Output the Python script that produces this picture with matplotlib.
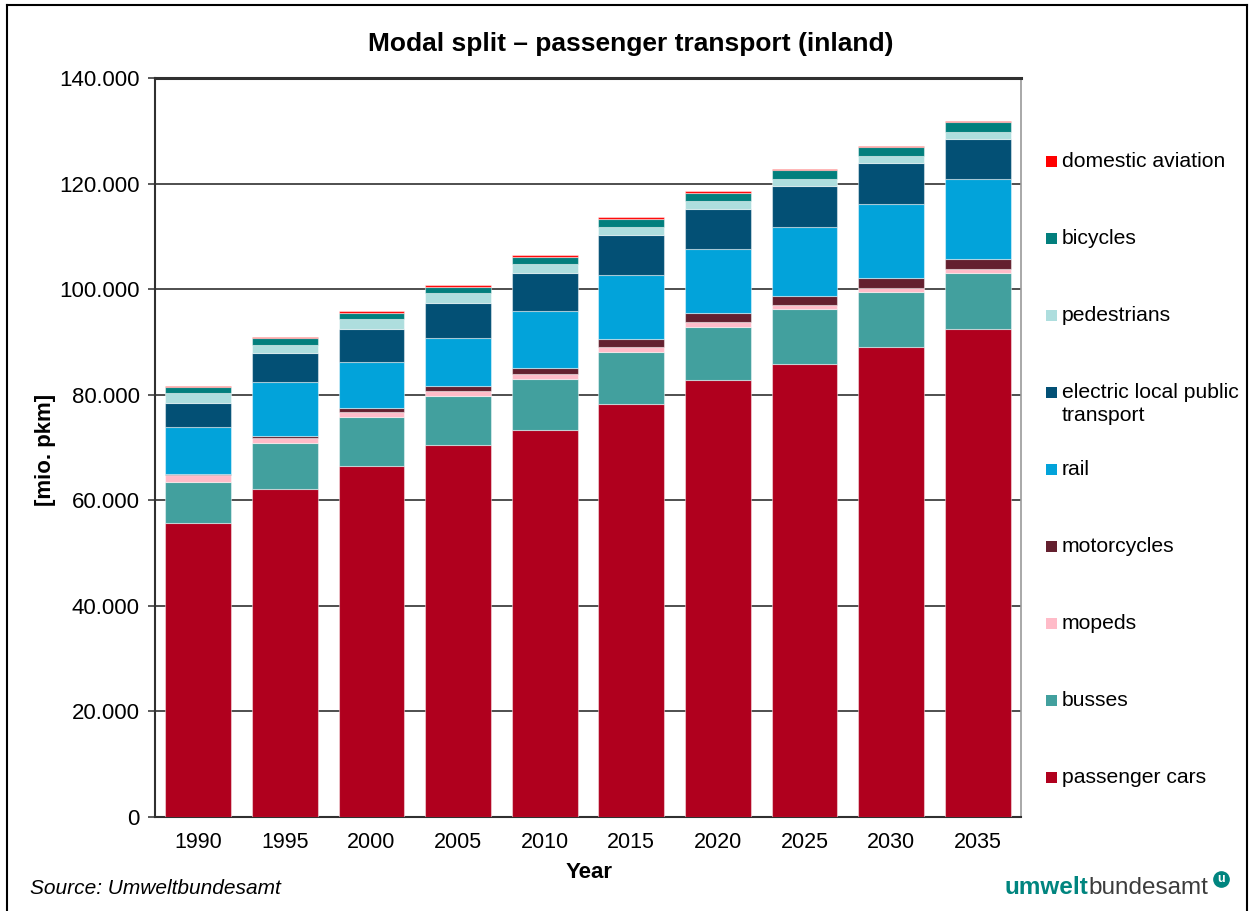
import matplotlib.pyplot as plt
import numpy as np
from matplotlib.patches import Rectangle
from matplotlib.lines import Line2D
from matplotlib.ticker import FuncFormatter

plt.rcParams['font.family'] = ['Liberation Sans', 'DejaVu Sans']

years = ['1990', '1995', '2000', '2005', '2010', '2015', '2020', '2025', '2030', '2035']

# passenger kilometres in thousand mio. pkm, bottom to top of each stack
passenger_cars = [55.64, 62.13, 66.55, 70.53, 73.37, 78.29, 82.78, 85.87, 89.08, 92.50]
busses = [7.88, 8.66, 9.22, 9.22, 9.55, 9.79, 10.10, 10.30, 10.42, 10.55]
mopeds = [1.21, 0.95, 0.89, 0.89, 0.95, 0.89, 0.89, 0.76, 0.70, 0.76]
motorcycles = [0.25, 0.49, 0.87, 1.00, 1.20, 1.52, 1.65, 1.82, 1.95, 1.95]
rail = [8.90, 10.17, 8.71, 9.04, 10.80, 12.18, 12.12, 13.01, 13.89, 15.10]
electric_local = [4.49, 5.49, 6.25, 6.74, 7.26, 7.58, 7.63, 7.69, 7.77, 7.63]
pedestrians = [1.89, 1.50, 1.84, 1.78, 1.70, 1.57, 1.57, 1.46, 1.33, 1.33]
bicycles = [1.25, 1.30, 1.20, 1.25, 1.33, 1.46, 1.52, 1.65, 1.78, 1.78]
domestic_aviation = [0.20, 0.20, 0.30, 0.35, 0.32, 0.32, 0.27, 0.25, 0.25, 0.25]

series = [
    ('passenger cars', passenger_cars, '#B0001E'),
    ('busses', busses, '#42A09E'),
    ('mopeds', mopeds, '#FFBBC8'),
    ('motorcycles', motorcycles, '#64202F'),
    ('rail', rail, '#02A3DA'),
    ('electric local public\ntransport', electric_local, '#035075'),
    ('pedestrians', pedestrians, '#AEDEDE'),
    ('bicycles', bicycles, '#027F7D'),
    ('domestic aviation', domestic_aviation, '#FF0000'),
]

W, H = 1251, 911
fig = plt.figure(figsize=(W / 100, H / 100), dpi=100)
ax = fig.add_axes([155 / W, 1 - 817 / H, (1021 - 155) / W, (817 - 78) / H])

x = np.arange(len(years))
bottom = np.zeros(len(years))
for name, vals, color in series:
    v = np.array(vals) * 1000
    ax.bar(x, v, width=0.76, bottom=bottom, color=color,
           edgecolor=(1, 1, 1, 0.45), linewidth=0.8, zorder=3)
    bottom += v

ax.set_xlim(-0.5, len(years) - 0.5)
ax.set_ylim(0, 140000)
ax.set_yticks(np.arange(0, 140001, 20000))
ax.yaxis.set_major_formatter(FuncFormatter(lambda v, p: f'{int(v):,}'.replace(',', '.')))
ax.set_xticks(x)
ax.set_xticklabels(years)
ax.tick_params(axis='y', labelsize=16, length=5, width=1.2, color='#404040', pad=6)
ax.tick_params(axis='x', labelsize=15.5, length=0, pad=11)
ax.grid(axis='y', color='#303030', linewidth=1.2, zorder=0)
ax.set_axisbelow(True)
for side in ['left', 'bottom']:
    ax.spines[side].set_color('#303030')
    ax.spines[side].set_linewidth(1.5)
ax.spines['top'].set_color('#303030')
ax.spines['top'].set_linewidth(2.2)
ax.spines['right'].set_color('#9a9a9a')
ax.spines['right'].set_linewidth(1.2)

fig.text(631 / W, 1 - 44 / H, 'Modal split \u2013 passenger transport (inland)',
         ha='center', va='center', fontsize=19, fontweight='bold')
fig.text(45 / W, 1 - 450 / H, '[mio. pkm]', rotation=90, ha='center', va='center',
         fontsize=16, fontweight='bold')
fig.text(589 / W, 1 - 873 / H, 'Year', ha='center', va='center',
         fontsize=16, fontweight='bold')
fig.text(30 / W, 1 - 888 / H, 'Source: Umweltbundesamt', ha='left', va='center',
         fontsize=15, fontstyle='italic')

# legend, top entry first
legend_y = [161, 238, 315, 392, 469, 546, 623, 700, 777]
for (name, vals, color), yy in zip(series[::-1], legend_y):
    fig.add_artist(Rectangle((1046 / W, 1 - (yy + 5.5) / H), 11 / W, 11 / H,
                             transform=fig.transFigure, facecolor=color,
                             edgecolor='none'))
    fig.text(1062 / W, 1 - (yy - 9) / H, name, ha='left', va='top',
             fontsize=15.2, linespacing=1.25)

# logo
logo = fig.text(1005 / W, 1 - 888 / H, 'umwelt', ha='left', va='center',
                fontsize=17.5, fontweight='bold', color='#00857F')
fig.canvas.draw()
bb = logo.get_window_extent()
fig.text(bb.x1 / W, 1 - 888 / H, 'bundesamt', ha='left', va='center',
         fontsize=17.5, color='#3c3c3c')
fig.add_artist(Line2D([1221 / W], [1 - 879 / H], transform=fig.transFigure,
                      marker='o', markersize=11, color='#00857F', linestyle='none'))
fig.text(1221 / W, 1 - 879.5 / H, 'u', ha='center', va='center', fontsize=9,
         fontweight='bold', color='white')

# outer frame
for xs, ys in [([7, 7], [911, 5]), ([7, 1247], [5, 5]), ([1247, 1247], [5, 911])]:
    fig.add_artist(Line2D([v / W for v in xs], [1 - v / H for v in ys],
                          transform=fig.transFigure, color='black', linewidth=1.5))

fig.savefig('out.png', dpi=100)
